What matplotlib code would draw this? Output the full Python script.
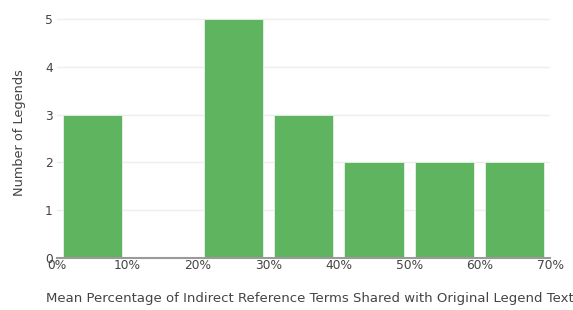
import matplotlib.pyplot as plt

plt.rcParams['font.family'] = ['DejaVu Sans']

# histogram bins (percent) and counts
bin_edges = [0, 10, 20, 30, 40, 50, 60, 70]
counts = [3, 0, 5, 3, 2, 2, 2]
x_ticks = [0, 10, 20, 30, 40, 50, 60, 70]
x_tick_labels = ["0%", "10%", "20%", "30%", "40%", "50%", "60%", "70%"]
y_ticks = [0, 1, 2, 3, 4, 5]

fig = plt.figure(figsize=(5.73, 3.10), dpi=100)
ax = fig.add_axes([0.0995, 0.1677, 0.8605, 0.811])

width = bin_edges[1] - bin_edges[0]
lefts = bin_edges[:-1]
bar_w = width * 0.84
ax.bar([l + width / 2 for l in lefts], counts, width=bar_w, color='#5fb55f',
       edgecolor='#e8f3e8', linewidth=0.6, zorder=2)

ax.set_xlim(0, 70)
ax.set_ylim(0, 5.26)
ax.set_xticks(x_ticks)
ax.set_xticklabels(x_tick_labels)
ax.set_yticks(y_ticks)

for s in ['top', 'right', 'left']:
    ax.spines[s].set_visible(False)
ax.spines['bottom'].set_color('#9a9a9a')
ax.spines['bottom'].set_linewidth(1.5)
ax.spines['bottom'].set_zorder(3)

ax.grid(axis='y', color='#eeeeee', linewidth=1, zorder=0)
ax.tick_params(axis='both', length=0, labelsize=8.8, colors='#444444')
ax.tick_params(axis='x', pad=1)
ax.tick_params(axis='y', pad=3)

ax.set_xlabel("Mean Percentage of Indirect Reference Terms Shared with Original Legend Text",
              fontsize=9.5, color='#444444', labelpad=14)
ax.xaxis.label.set_x(0.512)
ax.set_ylabel("Number of Legends", fontsize=9.3, color='#444444', labelpad=14)

fig.savefig("out.png", dpi=100)
